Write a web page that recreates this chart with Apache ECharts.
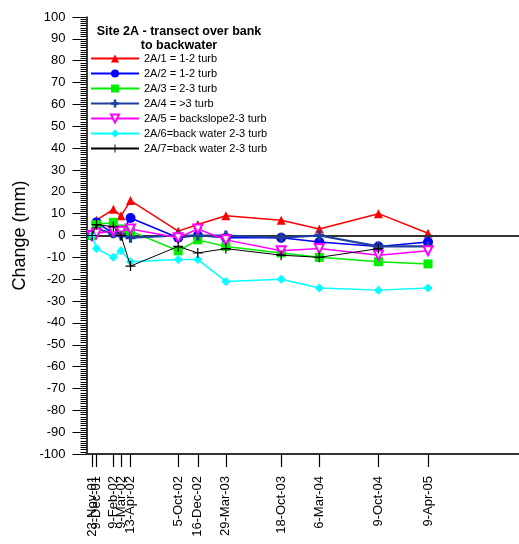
<!DOCTYPE html>
<html>
<head>
<meta charset="utf-8">
<script src="https://cdn.jsdelivr.net/npm/echarts@6/dist/echarts.min.js"></script>
<style>
html,body{margin:0;padding:0;background:#fff;}
#chart{width:519px;height:544px;}
</style>
</head>
<body>
<div id="chart"></div>
<script>
const dates = ['2001-11-23','2001-12-09','2002-02-09','2002-03-09','2002-04-13','2002-10-05','2002-12-16','2003-03-29','2003-10-18','2004-03-06','2004-10-09','2005-04-09'];
const tickLabels = ['23-Nov-01','9-Dec-01','9-Feb-02','9-Mar-02','13-Apr-02','5-Oct-02','16-Dec-02','29-Mar-03','18-Oct-03','6-Mar-04','9-Oct-04','9-Apr-05'];
const seriesNames = ['2A/1 = 1-2 turb','2A/2 = 1-2 turb','2A/3 = 2-3 turb','2A/4 = >3 turb','2A/5 = backslope2-3 turb','2A/6=back water 2-3 turb','2A/7=back water 2-3 turb'];
const s1 = [0, 7, 12, 9, 16, 2, 5, 9, 7, 3, 10, 1];
const s2 = [0, 6, 1, 1, 8, -1, 0, -1, -1, -3, -5, -3];
const s3 = [0, 5, 6, 3, 2, -7, -2, -5, -8, -10, -12, -13];
const s4 = [0, 3, 1, 0, -1, 0, 0, 0, -1, 0, -5, -5];
const s5 = [0, 1, 2, 2, 3, -1, 3, -2, -7, -6, -9, -7];
const s6 = [0, -6, -10, -7, -12, -11, -11, -21, -20, -24, -25, -24];
const s7 = [0, 5, 4, 0, -14, -5, -8, -6, -9, -10, -6];
const chartTitle = 'Site 2A - transect over bank\nto backwater';
const yTitle = 'Change (mm)';

function dayNum(s){
  const p = s.split('-').map(Number);
  return (Date.UTC(p[0], p[1]-1, p[2]) - Date.UTC(2001, 0, 1)) / 86400000;
}
const xs = dates.map(dayNum);
const labelMap = {};
xs.forEach((x,i)=>{ labelMap[x] = tickLabels[i]; });
function pts(arr){ return arr.map((v,i)=>[xs[i], v]); }

const FONT = 'Liberation Sans, Arial, sans-serif';
const plusFat = 'path://M-1.6,-5 L1.6,-5 L1.6,-1.6 L5,-1.6 L5,1.6 L1.6,1.6 L1.6,5 L-1.6,5 L-1.6,1.6 L-5,1.6 L-5,-1.6 L-1.6,-1.6 Z';
const plusThin = 'path://M-0.6,-5 L0.6,-5 L0.6,-0.6 L5,-0.6 L5,0.6 L0.6,0.6 L0.6,5 L-0.6,5 L-0.6,0.6 L-5,0.6 L-5,-0.6 L-0.6,-0.6 Z';

const styles = [
  {color:'#ff0000', symbol:'triangle', size:9, lw:1.5},
  {color:'#0000ff', symbol:'circle', size:10, lw:1.5},
  {color:'#00ee00', symbol:'rect', size:9, lw:1.5},
  {color:'#1f3f9f', symbol:plusFat, size:10, lw:2.2},
  {color:'#ff00ff', symbol:'triangle', size:9, lw:1.5, hollow:true, rotate:180},
  {color:'#00ffff', symbol:'diamond', size:9, lw:1.5},
  {color:'#000000', symbol:plusThin, size:10, lw:1}
];
const allData = [s1,s2,s3,s4,s5,s6,s7];

const series = allData.map((arr,i)=>{
  const st = styles[i];
  const s = {
    name: seriesNames[i],
    type: 'line',
    data: pts(arr),
    symbol: st.symbol,
    symbolSize: st.size,
    symbolRotate: st.rotate || 0,
    showAllSymbol: true,
    lineStyle: {color: st.color, width: st.lw},
    itemStyle: st.hollow ? {color:'#ffffff', borderColor: st.color, borderWidth: 2} : {color: st.color, borderWidth: 0},
    emphasis: {disabled: true},
    animation: false,
    z: 3 + i
  };
  if (i === 0) {
    s.markLine = {
      silent: true, symbol: ['none','none'], animation:false,
      label: {show:false},
      lineStyle: {color:'#333333', width:2, type:'solid'},
      data: [{yAxis: 0}]
    };
  }
  return s;
});

const xMin = xs[0] - 20.6;
const tickVals = [xs[0]].concat(xs);

const chart = echarts.init(document.getElementById('chart'), null, {renderer:'canvas'});
chart.setOption({
  animation: false,
  backgroundColor: '#ffffff',
  grid: {left: 86.5, right: 0, top: 17, bottom: 90, containLabel: false},
  xAxis: {
    type: 'value',
    min: xMin, max: xs[0] + 1567,
    axisLine: {show:true, onZero:false, lineStyle:{color:'#333333', width:2}},
    axisTick: {show:true, length:13, inside:false, lineStyle:{color:'#000', width:1.2}, customValues: tickVals},
    axisLabel: {show:true, rotate:90, margin:22, fontSize:13, color:'#000', fontFamily:FONT,
      hideOverlap:false, showMinLabel:true, customValues: tickVals, formatter: v => labelMap[v] || ''},
    splitLine: {show:false}
  },
  yAxis: {
    type: 'value',
    min: -100, max: 100, interval: 10,
    name: yTitle, nameLocation: 'middle', nameGap: 46, nameRotate: 90,
    nameTextStyle: {fontSize: 18, color:'#000', fontFamily: FONT},
    axisLine: {show:true, lineStyle:{color:'#000', width:1.5}},
    axisTick: {show:true, length:14, lineStyle:{color:'#000', width:1}},
    minorTick: {show:true, splitNumber:10, length:6, lineStyle:{color:'#000', width:1}},
    axisLabel: {fontSize:13, color:'#000', margin:21, fontFamily: FONT},
    splitLine: {show:false}
  },
  legend: {
    orient: 'vertical', left: 90, top: 53, padding: 0, itemWidth: 48, itemHeight: 10, itemGap: 4,
    textStyle: {fontSize: 11, color:'#000', fontFamily: FONT, padding:[0,0,0,0]},
    data: seriesNames,
    selectedMode: false
  },
  graphic: [{
    type: 'text', x: 179, y: 25, z: 100,
    style: {text: chartTitle, font: 'bold 12.5px ' + FONT, fill:'#000', align:'center', lineHeight: 14}
  }],
  series: series
});
</script>
</body>
</html>
